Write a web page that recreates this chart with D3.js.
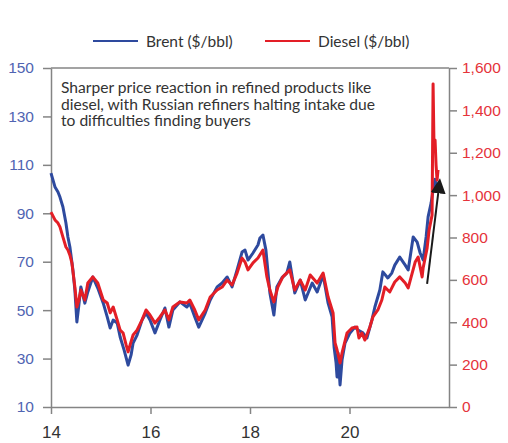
<!DOCTYPE html>
<html>
<head>
<meta charset="utf-8">
<script src="https://cdn.jsdelivr.net/npm/d3@7"></script>
<style>
  body { margin: 0; background: #fff; }
  svg { display: block; font-family: Lato, "Open Sans", sans-serif; }
  .axis path, .axis line { stroke: #848484; stroke-width: 1.5; }
  .axis text { font-size: 15.5px; }
  .y-left text { fill: #5064b2; }
  .y-right text { fill: #e5333b; }
  .x-axis text { fill: #333; font-size: 17px; }
  .note { fill: #333; font-size: 15.6px; }
  .legend-label { fill: #333; font-size: 15.5px; }
</style>
</head>
<body>
<svg id="chart"></svg>
<script>
// Years on the chart's own axis (14 = left edge)
const brentDates = [14.00,14.08,14.14,14.18,14.24,14.30,14.34,14.38,14.44,14.48,14.52,14.56,14.60,14.68,14.74,14.84,14.94,
  15.05,15.13,15.19,15.25,15.33,15.39,15.47,15.55,15.61,15.65,15.73,15.83,15.91,15.99,
  16.09,16.19,16.29,16.37,16.45,16.59,16.73,16.79,16.89,16.97,
  17.10,17.20,17.34,17.44,17.54,17.64,17.74,17.84,17.90,17.96,
  18.06,18.16,18.20,18.26,18.32,18.40,18.48,18.54,18.64,18.74,18.80,18.90,
  19.01,19.11,19.25,19.35,19.47,19.57,19.65,19.69,19.73,19.75,19.77,19.81,19.85,19.91,
  20.01,20.11,20.17,20.27,20.35,20.45,20.51,20.61,20.67,20.77,20.85,20.91,
  21.01,21.12,21.18,21.28,21.36,21.42,21.48,21.54,21.58,21.64,21.68,21.72,21.76,21.78];
const brentValues = [106.6,100.9,98.8,96.7,92.6,86.0,80.2,76.1,66.6,58.3,45.1,52.1,59.6,52.9,57.5,63.7,59.1,
  52.9,47.2,42.6,45.9,44.7,38.9,33.5,27.3,31.5,36.4,39.7,45.9,48.8,45.9,
  40.6,45.9,50.9,43.0,50.1,53.4,51.3,52.9,47.2,43.0,
  48.8,54.2,59.6,61.2,63.7,59.6,66.6,74.0,74.8,70.7,
  73.6,76.9,79.8,81.0,74.8,57.1,48.0,59.6,63.3,65.3,69.9,57.1,
  62.4,54.2,61.2,57.5,64.5,52.9,47.2,34.8,28.2,22.4,32.3,19.1,29.4,36.4,
  40.6,43.0,41.8,40.6,38.5,45.9,51.3,58.3,65.8,63.3,65.3,68.6,
  71.9,68.6,66.6,80.2,78.1,73.6,70.7,80.2,88.5,94.2,99.5,104.0,101.0,100.0];

const dieselDates = [14.00,14.08,14.14,14.18,14.24,14.30,14.34,14.38,14.42,14.48,14.52,14.56,14.60,14.68,14.74,14.84,14.94,
  15.05,15.13,15.19,15.25,15.33,15.39,15.45,15.51,15.55,15.59,15.65,15.73,15.83,15.91,15.99,
  16.09,16.19,16.29,16.37,16.45,16.59,16.73,16.79,16.89,16.97,
  17.10,17.20,17.34,17.44,17.54,17.64,17.74,17.84,17.90,17.96,
  18.06,18.16,18.26,18.34,18.40,18.48,18.56,18.66,18.80,18.90,
  19.01,19.11,19.21,19.35,19.47,19.57,19.67,19.71,19.75,19.81,19.85,19.95,
  20.05,20.15,20.19,20.25,20.31,20.41,20.47,20.57,20.65,20.71,20.81,20.91,
  21.01,21.12,21.18,21.26,21.32,21.38,21.46,21.48,21.56,21.60,21.66,21.68,21.70,21.72,21.74,21.76,21.78];
const dieselValues = [920,883,868,850,802,755,741,717,680,566,472,505,552,505,585,614,585,
  505,491,444,472,411,363,349,293,260,293,340,363,411,458,434,
  396,425,458,411,472,496,491,505,458,411,
  458,519,552,566,599,576,632,703,684,647,
  680,703,741,614,552,496,566,614,647,552,
  599,552,623,585,632,519,444,302,269,208,255,349,
  373,378,326,349,316,378,425,458,505,566,543,590,
  614,585,562,632,684,708,614,656,750,835,906,1525,1213,1260,1142,1071,1119];

const leftTicks = [10, 30, 50, 70, 90, 110, 130, 150];
const rightTicks = [0, 200, 400, 600, 800, 1000, 1200, 1400, 1600];
const xTicks = [14, 16, 18, 20];

const noteLines = [
  'Sharper price reaction in refined products like',
  'diesel, with Russian refiners halting intake due',
  'to difficulties finding buyers'
];
// arrow annotation, in axis units (year, Brent scale)
const arrowFrom = [21.56, 60.8];
const arrowTo = [21.79, 99.5];

const config = {
  containerWidth: 508,
  containerHeight: 443,
  margin: {top: 68, right: 59, bottom: 36, left: 51}
};
const width = config.containerWidth - config.margin.left - config.margin.right;
const height = config.containerHeight - config.margin.top - config.margin.bottom;

const svg = d3.select('#chart')
    .attr('width', config.containerWidth)
    .attr('height', config.containerHeight);

const chart = svg.append('g')
    .attr('transform', `translate(${config.margin.left},${config.margin.top})`);

const xScale = d3.scaleLinear().domain([14, 22]).range([0, width]);
const yLeft = d3.scaleLinear().domain([10, 150]).range([height, 0]);
const yRight = d3.scaleLinear().domain([0, 1600]).range([height, 0]);

// top border of the frame
chart.append('line')
    .attr('x1', 0).attr('x2', width)
    .attr('y1', 0).attr('y2', 0)
    .attr('stroke', '#848484')
    .attr('stroke-width', 1.5);

chart.append('g')
    .attr('class', 'axis y-left')
    .call(d3.axisLeft(yLeft).tickValues(leftTicks).tickSize(8).tickPadding(9).tickSizeOuter(0));

chart.append('g')
    .attr('class', 'axis y-right')
    .attr('transform', `translate(${width},0)`)
    .call(d3.axisRight(yRight).tickValues(rightTicks).tickFormat(d3.format(','))
      .tickSize(8).tickPadding(5).tickSizeOuter(0));

chart.append('g')
    .attr('class', 'axis x-axis')
    .attr('transform', `translate(0,${height})`)
    .call(d3.axisBottom(xScale).tickValues(xTicks).tickFormat(d3.format('d'))
      .tickSize(7).tickPadding(12).tickSizeOuter(0));

// lines
const brentLine = d3.line()
    .x((d, i) => xScale(brentDates[i]))
    .y(d => yLeft(d));
const dieselLine = d3.line()
    .x((d, i) => xScale(dieselDates[i]))
    .y(d => yRight(d));

chart.append('path')
    .datum(brentValues)
    .attr('fill', 'none')
    .attr('stroke', '#2e4a9e')
    .attr('stroke-width', 3)
    .attr('stroke-linejoin', 'round')
    .attr('d', brentLine);

chart.append('path')
    .datum(dieselValues)
    .attr('fill', 'none')
    .attr('stroke', '#e31e26')
    .attr('stroke-width', 3)
    .attr('stroke-linejoin', 'round')
    .attr('d', dieselLine);

// arrow
svg.append('defs').append('marker')
    .attr('id', 'arrowhead')
    .attr('viewBox', '0 0 10 10')
    .attr('refX', 2).attr('refY', 5)
    .attr('markerWidth', 7.5).attr('markerHeight', 7.5)
    .attr('markerUnits', 'strokeWidth')
    .attr('orient', 'auto')
  .append('path')
    .attr('d', 'M0,0 L10,5 L0,10 Z')
    .attr('fill', '#1a1a1a');

chart.append('line')
    .attr('x1', xScale(arrowFrom[0])).attr('y1', yLeft(arrowFrom[1]))
    .attr('x2', xScale(arrowTo[0])).attr('y2', yLeft(arrowTo[1]))
    .attr('stroke', '#1a1a1a')
    .attr('stroke-width', 2)
    .attr('marker-end', 'url(#arrowhead)');

// annotation text
chart.append('text')
    .attr('class', 'note')
    .attr('x', 10)
    .attr('y', 25)
  .selectAll('tspan')
    .data(noteLines)
  .join('tspan')
    .attr('x', 10)
    .attr('dy', (d, i) => i === 0 ? 0 : 16.5)
    .text(d => d);

// legend
const legend = svg.append('g').attr('class', 'legend');
const legendItems = [
  {label: 'Brent ($/bbl)', color: '#2e4a9e', x: 93},
  {label: 'Diesel ($/bbl)', color: '#e31e26', x: 265}
];
legendItems.forEach(item => {
  legend.append('line')
      .attr('x1', item.x).attr('x2', item.x + 45)
      .attr('y1', 41).attr('y2', 41)
      .attr('stroke', item.color)
      .attr('stroke-width', 2.2);
  legend.append('text')
      .attr('class', 'legend-label')
      .attr('x', item.x + 53)
      .attr('y', 47)
      .text(item.label);
});
</script>
</body>
</html>
